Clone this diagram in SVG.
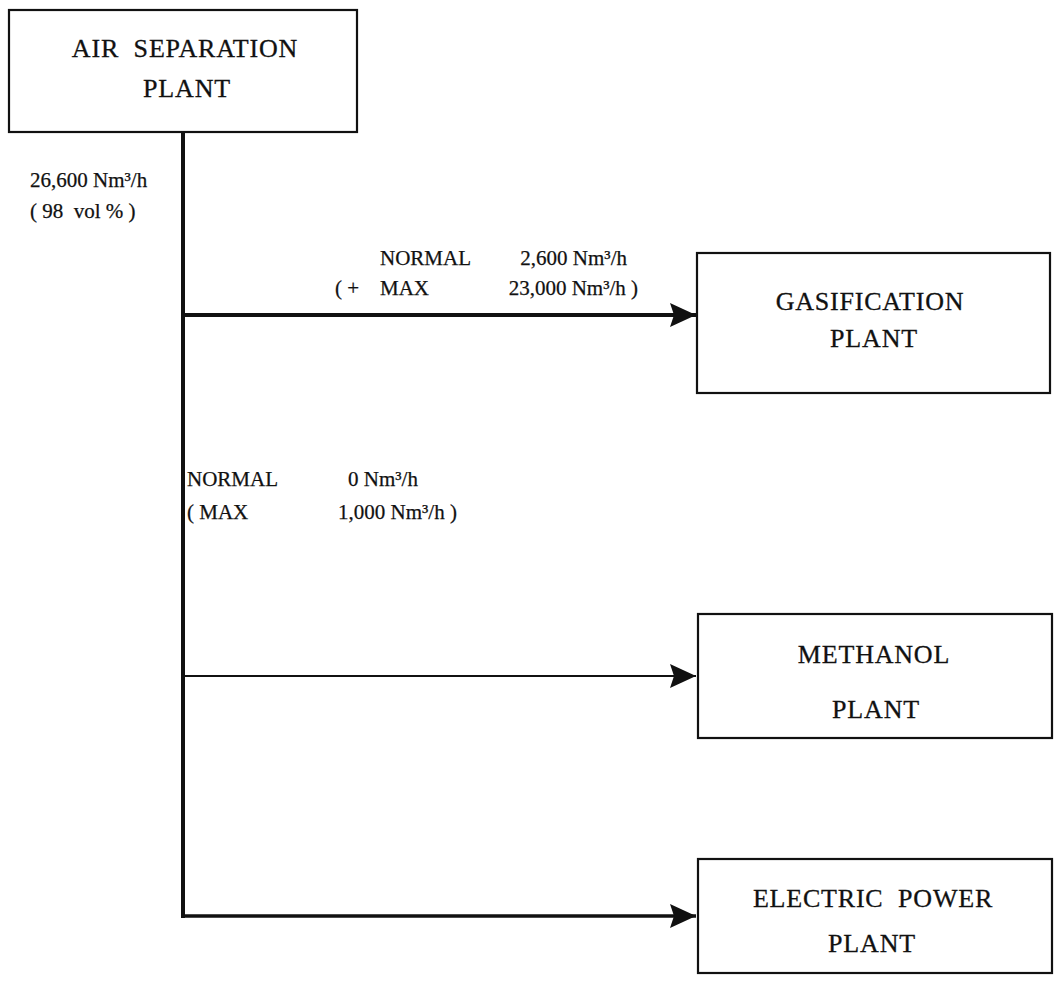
<svg xmlns="http://www.w3.org/2000/svg" width="1057" height="985" viewBox="0 0 1057 985">
<style>
.box{fill:#fff;stroke:#111;stroke-width:2.2}
.bt{font-family:"Liberation Serif","Times New Roman",serif;font-size:26px;fill:#111;text-anchor:middle;letter-spacing:0.8px;stroke:#111;stroke-width:0.3}
.lb{font-family:"Liberation Serif","Times New Roman",serif;font-size:21px;fill:#111;stroke:#111;stroke-width:0.25}
.ln{stroke:#111;fill:none}
</style>
<defs>
<marker id="ah" markerUnits="userSpaceOnUse" markerWidth="28" markerHeight="26" refX="26" refY="13" orient="auto" viewBox="0 0 28 26">
<path d="M0,1 L26,13 L0,25 L4,13 Z" fill="#111"/>
</marker>
</defs>
<rect width="1057" height="985" fill="#fff"/>
<g id="air-separation">
<rect class="box" x="9" y="10" width="348" height="122"/>
<text class="bt" x="185" y="57" xml:space="preserve">AIR  SEPARATION</text>
<text class="bt" x="187" y="97">PLANT</text>
</g>
<g id="gasification">
<rect class="box" x="697" y="253" width="353" height="140"/>
<text class="bt" x="870" y="310">GASIFICATION</text>
<text class="bt" x="874" y="347">PLANT</text>
</g>
<g id="methanol">
<rect class="box" x="698" y="614" width="354" height="124"/>
<text class="bt" x="874" y="663">METHANOL</text>
<text class="bt" x="876" y="718">PLANT</text>
</g>
<g id="electric">
<rect class="box" x="698" y="859" width="354" height="114"/>
<text class="bt" x="873" y="907" xml:space="preserve">ELECTRIC  POWER</text>
<text class="bt" x="872" y="952">PLANT</text>
</g>
<g id="connectors">
<line class="ln" x1="183" y1="132" x2="183" y2="918" stroke-width="4"/>
<line class="ln" x1="181" y1="315" x2="696" y2="315" stroke-width="4" marker-end="url(#ah)"/>
<line class="ln" x1="183" y1="676" x2="696" y2="676" stroke-width="2" marker-end="url(#ah)"/>
<line class="ln" x1="181" y1="916" x2="696" y2="916" stroke-width="3.5" marker-end="url(#ah)"/>
</g>
<g id="labels">
<text class="lb" x="30" y="187">26,600 Nm³/h</text>
<text class="lb" x="30" y="218" xml:space="preserve">( 98  vol % )</text>
<text class="lb" x="380" y="265">NORMAL</text>
<text class="lb" x="627" y="265" text-anchor="end">2,600 Nm³/h</text>
<text class="lb" x="335" y="295">( +</text>
<text class="lb" x="380" y="295">MAX</text>
<text class="lb" x="638" y="295" text-anchor="end">23,000 Nm³/h )</text>
<text class="lb" x="187" y="486">NORMAL</text>
<text class="lb" x="348" y="486">0 Nm³/h</text>
<text class="lb" x="187" y="519">( MAX</text>
<text class="lb" x="338" y="519">1,000 Nm³/h )</text>
</g>
</svg>
